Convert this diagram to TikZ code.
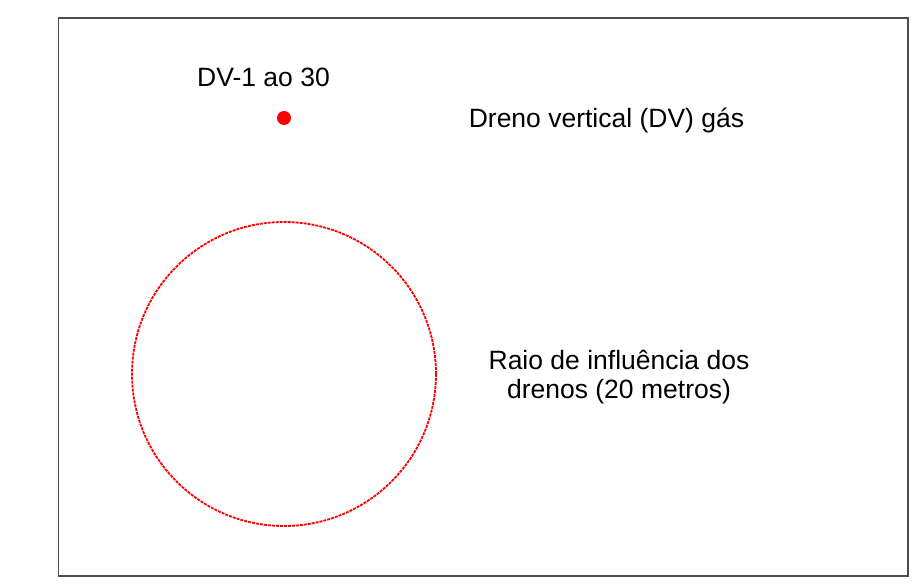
\documentclass[tikz,border=0pt]{standalone}
\usepackage{fontspec}
\setmainfont{Liberation Sans}
\begin{document}
\begin{tikzpicture}[x=1pt,y=-1pt,
  lbl/.style={font=\fontsize{26.5}{29}\selectfont, inner sep=0pt, anchor=base, align=center},
  frame/.style={draw=black!70, line width=1.3pt},
  infl/.style={draw=red, line width=1.8pt, dash pattern=on 3pt off 1pt}]
\useasboundingbox (0,0) rectangle (922,585);
\draw[frame] (58.5,18) rectangle (908,576);
\node[lbl] (dvlabel) at (263.5,87) {DV-1 ao 30};
\fill[red] (284,118) circle (7);
\node[lbl] (dvtext) at (606.5,127.5) {Dreno vertical (DV) gás};
\draw[infl] (284,374) circle (152);
\node[lbl, anchor=north] (raio) at (619,350) {Raio de influência dos\\drenos (20 metros)};
\end{tikzpicture}
\end{document}
